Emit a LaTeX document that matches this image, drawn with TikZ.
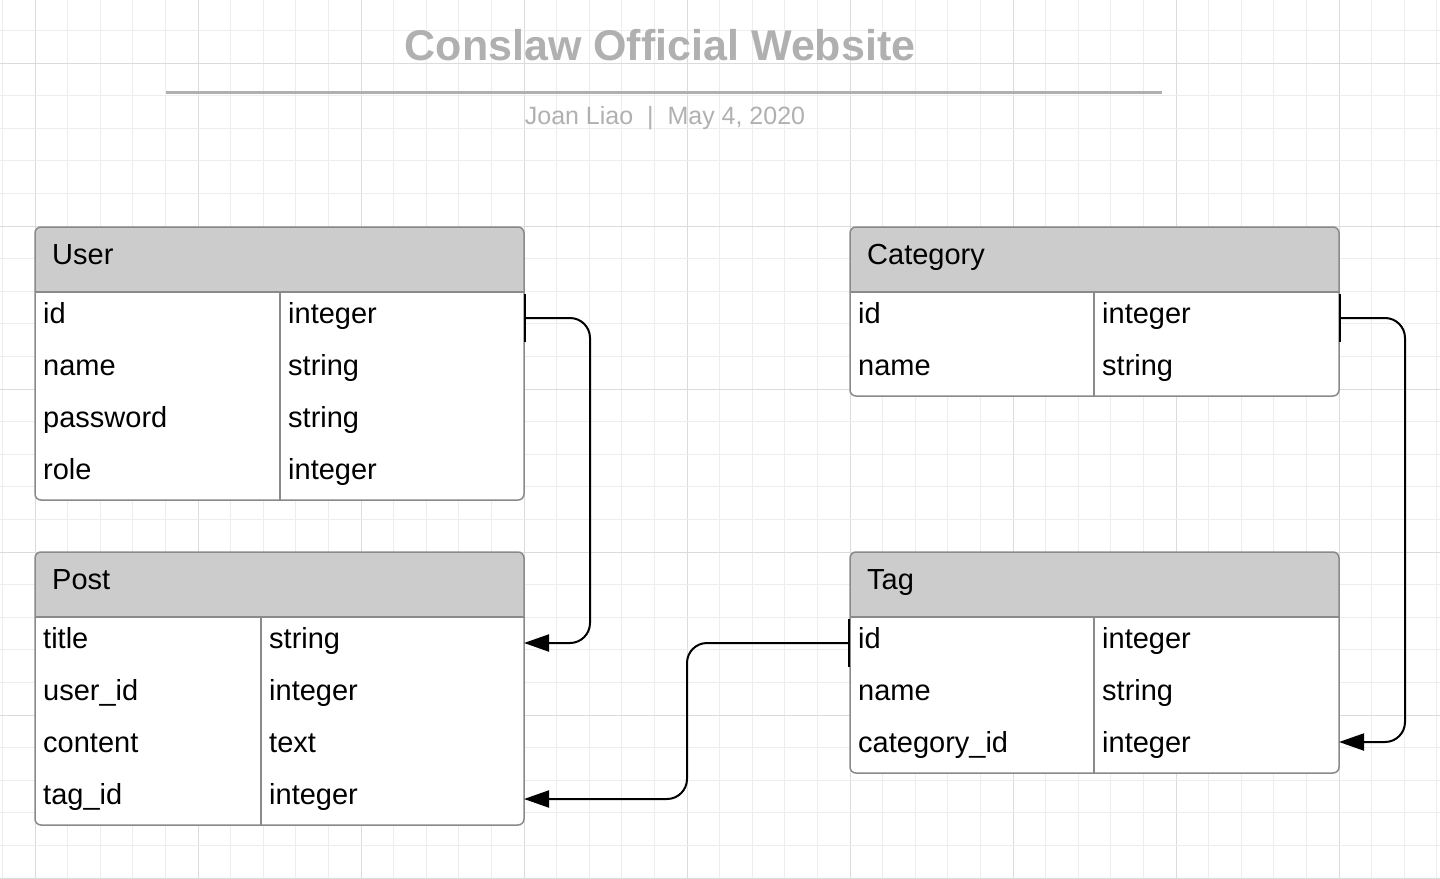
\documentclass[tikz,border=0pt]{standalone}
\usepackage{fontspec}
\setmainfont{Liberation Sans}
\usetikzlibrary{arrows.meta, calc}

\definecolor{hdrgray}{HTML}{CCCCCC}
\definecolor{edgegray}{HTML}{8A8A8A}
\definecolor{titlegray}{HTML}{B0B0B0}

\begin{document}
\begin{tikzpicture}[x=1pt, y=-1pt,
    edge/.style={draw=edgegray, line width=1.5pt},
    rowbox/.style={inner sep=0pt, outer sep=0pt, minimum height=52pt, anchor=north west},
    celltext/.style={anchor=west, inner sep=0pt, text height=18pt, text depth=8pt, font=\fontsize{29}{35}\selectfont},
    link/.style={line width=2pt, rounded corners=20pt, arrows={Bar[width=48pt]-Triangle[length=25pt, width=17pt]}}]
                \useasboundingbox (0,0) rectangle (1440,878);

                % background grid, every fifth line a bit darker
                \foreach \i in {0,...,44} {
                    \pgfmathsetmacro{\gcol}{(mod(\i,5)==1 ? "black!14" : "black!7")}
                        \draw[line width=1pt, color=\gcol] ({2.4+32.6*\i}, 0) -- ({2.4+32.6*\i}, 878);
                }
                \foreach \j in {0,...,27} {
                    \pgfmathsetmacro{\gcol}{(mod(\j,5)==2 ? "black!14" : "black!7")}
                        \draw[line width=1pt, color=\gcol] (0, {-2.2+32.6*\j}) -- (1440, {-2.2+32.6*\j});
                }

                \node[font=\fontsize{43}{51}\selectfont\bfseries, text=titlegray] (title) at (660,45) {Conslaw Official Website};
                \draw[line width=3pt, color=titlegray] (166,92) -- (1162,92);
                \node[font=\fontsize{25}{30}\selectfont, text=titlegray] (byline) at (665,118) {Joan Liao\ \ |\ \ May 4, 2020};

                % table frames
                \foreach \tb/\tx/\ty/\nrow/\split/\ttl in {user/35/227/4/280/User, cat/850/227/2/1094/Category, post/35/552/4/261/Post, tag/850/552/3/1094/Tag} {
                    \pgfmathsetmacro{\tbot}{\ty+65+52*\nrow}
                    \fill[white, rounded corners=6pt] (\tx,\ty) rectangle ({\tx+489},\tbot);
                    \fill[hdrgray] (\tx,{\ty+65}) [rounded corners=6pt] -- (\tx,\ty) -- ({\tx+489},\ty) [sharp corners] -- ({\tx+489},{\ty+65}) -- cycle;
                    \draw[edge] (\tx,{\ty+65}) -- ({\tx+489},{\ty+65});
                    \draw[edge] (\split,{\ty+65}) -- (\split,\tbot);
                    \draw[edge, rounded corners=6pt] (\tx,\ty) rectangle ({\tx+489},\tbot);
                    \node[celltext] (\tb-head) at ({\tx+17},{\ty+32.5}) {\ttl};
                }

                % rows
                \foreach \fld/\typ [count=\i] in {id/integer, name/string, password/string, role/integer} {
                    \node[rowbox, minimum width=489pt] (user-\i) at (35,{292+52*(\i-1)}) {};
                    \node[celltext] (user-f\i) at (43,{318+52*(\i-1)}) {\fld};
                    \node[celltext] (user-t\i) at (288,{318+52*(\i-1)}) {\typ};
                }
                \foreach \fld/\typ [count=\i] in {id/integer, name/string} {
                    \node[rowbox, minimum width=489pt] (cat-\i) at (850,{292+52*(\i-1)}) {};
                    \node[celltext] (cat-f\i) at (858,{318+52*(\i-1)}) {\fld};
                    \node[celltext] (cat-t\i) at (1102,{318+52*(\i-1)}) {\typ};
                }
                \foreach \fld/\typ [count=\i] in {title/string, user\_id/integer, content/text, tag\_id/integer} {
                    \node[rowbox, minimum width=489pt] (post-\i) at (35,{617+52*(\i-1)}) {};
                    \node[celltext] (post-f\i) at (43,{643+52*(\i-1)}) {\fld};
                    \node[celltext] (post-t\i) at (269,{643+52*(\i-1)}) {\typ};
                }
                \foreach \fld/\typ [count=\i] in {id/integer, name/string, category\_id/integer} {
                    \node[rowbox, minimum width=489pt] (tag-\i) at (850,{617+52*(\i-1)}) {};
                    \node[celltext] (tag-f\i) at (858,{643+52*(\i-1)}) {\fld};
                    \node[celltext] (tag-t\i) at (1102,{643+52*(\i-1)}) {\typ};
                }

                % relations
                \draw[link] (user-1.east) -- ++(66,0) |- (post-1.east);
                \draw[link] (tag-1.west) -- ++(-163,0) |- (post-4.east);
                \draw[link] (cat-1.east) -- ++(66,0) |- ($(tag-3.east)+(0,-5)$);
            \end{tikzpicture}
\end{document}
